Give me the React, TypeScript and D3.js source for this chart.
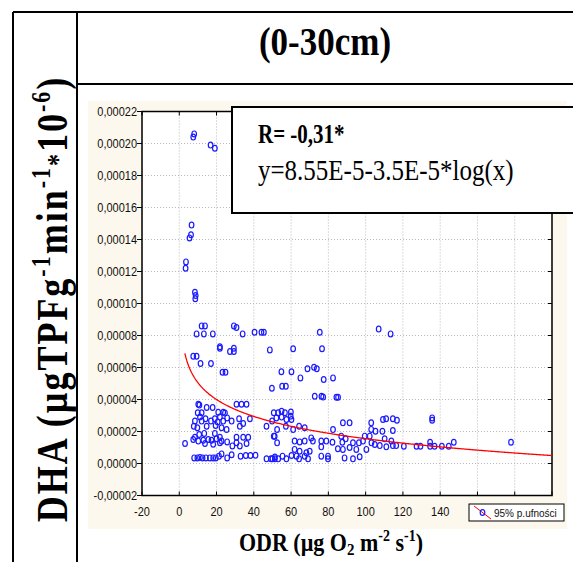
import React from "react";
import * as d3 from "d3";

const W = 573;
const H = 562;

// ODR (x) and DHA (y, in units of 1e-5)
const highPoints: [number, number][] = [
  [7.5, 20.4], [8.0, 20.6], [16.8, 19.9], [19.1, 19.7], [6.6, 14.9], [5.5, 14.1], [6.3, 14.3],
  [3.6, 12.6], [3.4, 12.2], [8.4, 10.7], [8.8, 10.5], [8.6, 10.3],
];
const midPoints: [number, number][] = [
  [12, 8.6], [13.8, 8.6], [9.3, 8.1], [13.2, 8.1], [18, 8.1], [29.3, 8.6], [30.7, 8.5], [34, 8.1],
  [40.4, 8.2], [44.1, 8.2], [45.4, 8.2], [21.8, 7.3], [21.8, 7.2], [29.3, 7.2], [27.2, 7.0], [29.3, 7.0],
  [48.6, 7.1], [7.5, 6.7], [9.3, 6.7], [11.4, 6.25], [17, 6.25], [23.2, 5.7], [24.8, 5.7], [49.7, 4.7],
  [75.4, 8.2], [107, 8.4], [113.4, 8.1], [61.1, 7.17], [76.6, 7.17], [54.8, 5.73], [60.2, 5.73],
  [65, 5.35], [68.8, 5.92], [72.3, 6.02], [73.8, 5.92], [77.5, 5.25], [82.5, 5.35], [55.2, 4.83],
  [57.2, 4.83], [72.7, 4.2], [76.3, 4.2], [77.2, 4.15], [84.3, 4.14], [85.2, 4.14],
];
const lowLeftPoints: [number, number][] = [
  [10.2, 3.7], [10.8, 3.65], [30.7, 3.7], [33.4, 3.7], [36.1, 3.7], [14.7, 3.5], [17.9, 3.5],
  [9.9, 3.17], [12, 3.17], [20.9, 3.2], [23.6, 3.2], [24.5, 3.15], [11.1, 2.9], [14.1, 2.8],
  [19.1, 2.8], [21.8, 2.9], [25.7, 2.85], [32.1, 2.8], [8.4, 2.65], [12, 2.65], [17, 2.65],
  [20.6, 2.6], [23.6, 2.65], [28.1, 2.65], [34.3, 2.5], [37.9, 2.8], [7.8, 2.33], [9.7, 2.23],
  [14.7, 2.33], [19.5, 2.38], [22.7, 2.23], [25.4, 2.12], [32.5, 2.33], [46.8, 2.33], [8.4, 1.64],
  [10.7, 1.81], [13.4, 1.88], [19.1, 1.88], [21.8, 1.64], [30.7, 1.64], [34.3, 1.64], [37, 1.64],
  [51.2, 1.7], [7.5, 1.5], [10.2, 1.4], [12.9, 1.45], [15.6, 1.5], [17.3, 1.45], [20, 1.55],
  [22.7, 1.4], [25.7, 1.35], [3.1, 1.25], [13.8, 1.25], [18.2, 1.2], [21.8, 1.3], [30.7, 1.3],
  [32.5, 1.1], [36.1, 1.25], [28.5, 1.1],
  [8, 0.35], [9.7, 0.35], [11.1, 0.38], [12.5, 0.35], [14.3, 0.35], [16.4, 0.35], [18.2, 0.35],
  [19.6, 0.35], [21.3, 0.46], [22.7, 0.6], [25.7, 0.35], [28.1, 0.55], [32.9, 0.46], [35.7, 0.5],
  [38.2, 0.5], [40.9, 0.52], [46.8, 0.29], [49.2, 0.29], [51.3, 0.3],
];
const lowRightPoints: [number, number][] = [
  [50.7, 3.17], [53.1, 3.17], [54.9, 3.27], [56.7, 3.17], [59.9, 3.22], [49.8, 2.65], [52.1, 2.85],
  [54.9, 2.9], [57.5, 2.75], [60.2, 2.75], [59.8, 2.95], [52.5, 2.12], [57.2, 2.33], [61.1, 2.12],
  [64.3, 2.33], [67.3, 2.23], [87.8, 2.54], [91.4, 2.54], [82.5, 2.12], [103, 2.54], [109.3, 2.75],
  [111, 2.8], [114.6, 2.8], [116.8, 2.7], [105.3, 2.02], [109, 2.02], [114.6, 2.06], [103, 2.13],
  [50.7, 1.71], [52.5, 1.29], [61.9, 1.4], [64.6, 1.35], [67.3, 1.4], [70.8, 1.6], [71.7, 1.4],
  [76.2, 1.4], [78.9, 1.4], [86.9, 1.71], [89.3, 1.54], [93.2, 1.29], [96.4, 1.29], [98.6, 1.4],
  [99.5, 1.71], [102.2, 1.71], [103.1, 1.29], [104.9, 1.19], [107.6, 1.12], [110.2, 1.54],
  [113.8, 1.4], [111.1, 1.04], [114.6, 1.12], [116.4, 1.12], [120.5, 1.08],
  [61.9, 0.88], [64.6, 0.77], [68.2, 0.67], [70, 0.77], [76.2, 1.04], [76.2, 0.46], [79.8, 0.46],
  [85.1, 0.92], [87.8, 0.88], [91.4, 1.0], [95, 0.88], [100.4, 0.88],
  [50, 0.29], [51.3, 0.4], [53.1, 0.29], [55.4, 0.46], [57.5, 0.29], [60.2, 0.5], [62.9, 0.46],
  [64.3, 0.29], [67.3, 0.46], [69.1, 0.29], [79.8, 0.29], [88.7, 0.35], [93.2, 0.29], [96.8, 0.42],
  [178, 1.33], [147.3, 1.33], [144.6, 1.08], [140.9, 1.08], [137, 1.08], [134.6, 1.33], [134.6, 1.08],
  [129.4, 1.08], [127.3, 1.08], [135.7, 2.85], [135.7, 2.7], [82.2, 1.33], [87.5, 1.33],
];
const DHA_UNIT = 1e-5;

const xTicks = [-20, 0, 20, 40, 60, 80, 100, 120, 140];
const xGrid = [-20, 0, 20, 40, 60, 80, 100, 120, 140, 160, 180, 200];
const yTicks = [-0.00002, 0, 0.00002, 0.00004, 0.00006, 0.00008, 0.0001, 0.00012, 0.00014, 0.00016, 0.00018, 0.0002, 0.00022];
const fitA = 8.55e-5;
const fitB = 3.5e-5;
const fitXStart = 3;
const fitXEnd = 200;

const titleText = "(0-30cm)";
const rText = "R= -0,31*";
const eqText = "y=8.55E-5-3.5E-5*log(x)";
const legendLabel = "95% p.ufności";

const SERIF = "'Liberation Serif', 'Times New Roman', serif";
const SANS = "'Liberation Sans', Arial, sans-serif";

export default function App() {
  const left = 142, right = 552, top = 111.5, bottom = 495.5;
  const x = d3.scaleLinear().domain([-20, 200]).range([left, right]);
  const y = d3.scaleLinear().domain([-0.00002, 0.00022]).range([bottom, top]);
  const allPoints = [...highPoints, ...midPoints, ...lowLeftPoints, ...lowRightPoints];
  const fitXs = d3.range(fitXStart, fitXEnd + 0.001, 0.5);
  const fitPath = d3
    .line<number>()
    .x((d) => x(d))
    .y((d) => y(fitA - fitB * Math.log10(d)))(fitXs) as string;
  const fmt = (v: number) => {
    if (Math.abs(v) < 1e-12) return "0,00000";
    return d3.format(".5f")(v).replace(".", ",").replace("−", "-");
  };

  return (
    <svg width={W} height={H} style={{ position: "absolute", left: 0, top: 0, background: "#fff" }}>
      {/* table frame */}
      <line x1={13} y1={12} x2={573} y2={12} stroke="#000" strokeWidth={2} />
      <line x1={13} y1={12} x2={13} y2={562} stroke="#000" strokeWidth={2} />
      <line x1={77} y1={12} x2={77} y2={562} stroke="#000" strokeWidth={2} />
      <line x1={77} y1={84} x2={573} y2={84} stroke="#000" strokeWidth={2} />

      {/* title */}
      <text transform="translate(325,55) scale(1,1.16)" textAnchor="middle" fontFamily={SERIF} fontWeight="bold" fontSize={35}>
        {titleText}
      </text>

      {/* y label */}
      <text transform="translate(67,299) rotate(-90) scale(1,1.25)" textAnchor="middle" fontFamily={SERIF} fontWeight="bold" fontSize={36} letterSpacing={2}>
        DHA (µgTPFg
        <tspan dy={-14} fontSize={22}>-1</tspan>
        <tspan dy={14}>min</tspan>
        <tspan dy={-14} fontSize={22}>-1</tspan>
        <tspan dy={14} fontSize={24}>*</tspan>
        <tspan>10</tspan>
        <tspan dy={-14} fontSize={22}>-6</tspan>
        <tspan dy={14}>)</tspan>
      </text>

      {/* beige panel */}
      <rect x={88} y={101} width={479} height={428} fill="#fdf8ed" />
      <rect x={left} y={top} width={right - left} height={bottom - top} fill="#fff" />

      {/* grid */}
      {xGrid.map((t) => (
        <line key={"gx" + t} x1={x(t)} x2={x(t)} y1={top} y2={bottom} stroke="#b8b8b8" strokeDasharray="1,2" strokeWidth={1} />
      ))}
      {yTicks.map((t) => (
        <line key={"gy" + t} x1={left} x2={right} y1={y(t)} y2={y(t)} stroke="#b8b8b8" strokeDasharray="1,2" strokeWidth={1} />
      ))}

      {/* frame + ticks */}
      <rect x={left} y={top} width={right - left} height={bottom - top} fill="none" stroke="#000" strokeWidth={1.5} />
      {yTicks.map((t) => (
        <g key={"ty" + t}>
          <line x1={left - 5} x2={left} y1={y(t)} y2={y(t)} stroke="#000" strokeWidth={1} />
          <line x1={right - 4} x2={right} y1={y(t)} y2={y(t)} stroke="#000" strokeWidth={1} />
          <text transform={`translate(137,${y(t) + 4}) scale(1,1.15)`} textAnchor="end" fontFamily={SANS} fontSize={11} fill="#111">
            {fmt(t)}
          </text>
        </g>
      ))}
      {xGrid.map((t) => (
        <g key={"tx" + t}>
          <line x1={x(t)} x2={x(t)} y1={bottom - 4} y2={bottom} stroke="#000" strokeWidth={1} />
          <line x1={x(t)} x2={x(t)} y1={top} y2={top + 4} stroke="#000" strokeWidth={1} />
        </g>
      ))}
      {xTicks.map((t) => (
        <text key={"lx" + t} transform={`translate(${x(t)},516) scale(1,1.15)`} textAnchor="middle" fontFamily={SANS} fontSize={11} fill="#111">
          {t}
        </text>
      ))}

      {/* points */}
      {allPoints.map((p, i) => (
        <ellipse key={"p" + i} cx={x(p[0])} cy={y(p[1] * DHA_UNIT)} rx={2.3} ry={2.9} fill="none" stroke="#1a1aff" strokeWidth={1.2} />
      ))}

      {/* fit curve */}
      <path d={fitPath} fill="none" stroke="#ff0000" strokeWidth={1.3} />

      {/* annotation box */}
      <rect x={232} y={107} width={360} height={106} fill="#fff" stroke="#000" strokeWidth={2} />
      <text transform="translate(258,143) scale(1,1.3)" fontFamily={SERIF} fontWeight="bold" fontSize={21}>
        {rText}
      </text>
      <text transform="translate(258,180) scale(1,1.15)" fontFamily={SERIF} fontSize={25}>
        {eqText}
      </text>

      {/* legend */}
      <rect x={469} y={504} width={95} height={17} fill="#fff" stroke="#000" strokeWidth={1} />
      <line x1={474} y1={506} x2={491} y2={519} stroke="#ff0000" strokeWidth={1} />
      <ellipse cx={482.5} cy={512.5} rx={2.3} ry={2.9} fill="none" stroke="#1a1aff" strokeWidth={1.2} />
      <text x={494} y={517} fontFamily={SANS} fontSize={10} fill="#111">
        {legendLabel}
      </text>

      {/* x label */}
      <text transform="translate(331,551) scale(1,1.12)" textAnchor="middle" fontFamily={SERIF} fontWeight="bold" fontSize={22}>
        ODR (µg O<tspan dy={4} fontSize={15}>2</tspan>
        <tspan dy={-4}> m</tspan>
        <tspan dy={-9} fontSize={14}>-2</tspan>
        <tspan dy={9}> s</tspan>
        <tspan dy={-9} fontSize={14}>-1</tspan>
        <tspan dy={9}>)</tspan>
      </text>
    </svg>
  );
}
